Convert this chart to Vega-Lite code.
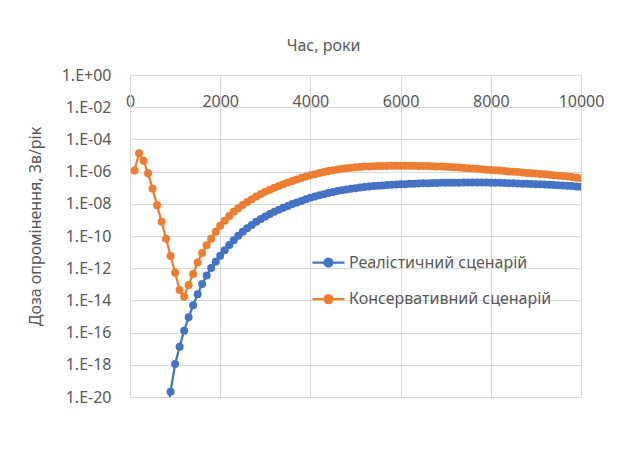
{
  "$schema": "https://vega.github.io/schema/vega-lite/v6.json",
  "width": 451,
  "height": 322,
  "autosize": "none",
  "padding": {"left": 130, "top": 75, "right": 40, "bottom": 53},
  "background": "white",
  "config": {"view": {"stroke": null}, "font": "Noto Sans"},
  "data": {"values": [
    {"t":100,"c":1.15e-6},{"t":200,"c":1.38e-5},{"t":300,"c":4.79e-6},{"t":400,"c":7.76e-7},{"t":500,"c":8.71e-8},{"t":600,"c":8.13e-9},{"t":700,"c":7.76e-10},
    {"t":800,"r":5.0e-22,"c":6.76e-11},{"t":900,"r":2.14e-20,"c":5.75e-12},{"t":1000,"r":1.12e-18,"c":5.25e-13},{"t":1100,"r":1.32e-17,"c":4.47e-14},{"t":1200,"r":1.32e-16,"c":1.70e-14},
    {"t":1300,"r":8.91e-16,"c":9.12e-14},{"t":1400,"r":5.01e-15,"c":4.37e-13},{"t":1500,"r":2.40e-14,"c":2.24e-12},{"t":1600,"r":1.05e-13,"c":8.91e-12},{"t":1700,"r":3.55e-13,"c":2.63e-11},
    {"t":1800,"r":1.02e-12,"c":6.76e-11},{"t":1900,"r":2.51e-12,"c":1.86e-10},{"t":2000,"r":5.89e-12,"c":4.37e-10},{"t":2100,"r":1.32e-11,"c":8.71e-10},{"t":2200,"r":2.75e-11,"c":1.74e-9},
    {"t":2300,"r":5.50e-11,"c":3.16e-9},{"t":2400,"r":1.02e-10,"c":5.37e-9},{"t":2500,"r":1.82e-10,"c":8.51e-9},{"t":2600,"r":3.02e-10,"c":1.29e-8},{"t":2700,"r":4.90e-10,"c":1.91e-8},
    {"t":2800,"r":7.59e-10,"c":2.82e-8},{"t":2900,"r":1.12e-9,"c":4.07e-8},{"t":3000,"r":1.62e-9,"c":5.62e-8},{"t":3100,"r":2.29e-9,"c":7.59e-8},{"t":3200,"r":3.16e-9,"c":1.00e-7},
    {"t":3300,"r":4.27e-9,"c":1.29e-7},{"t":3400,"r":5.62e-9,"c":1.66e-7},{"t":3500,"r":7.41e-9,"c":2.09e-7},{"t":3600,"r":9.55e-9,"c":2.63e-7},{"t":3700,"r":1.20e-8,"c":3.24e-7},
    {"t":3800,"r":1.51e-8,"c":3.98e-7},{"t":3900,"r":1.91e-8,"c":4.90e-7},{"t":4000,"r":2.34e-8,"c":5.89e-7},{"t":4100,"r":2.82e-8,"c":6.92e-7},{"t":4200,"r":3.39e-8,"c":8.13e-7},
    {"t":4300,"r":3.98e-8,"c":9.55e-7},{"t":4400,"r":4.68e-8,"c":1.10e-6},{"t":4500,"r":5.37e-8,"c":1.23e-6},{"t":4600,"r":6.17e-8,"c":1.35e-6},{"t":4700,"r":6.92e-8,"c":1.48e-6},
    {"t":4800,"r":7.76e-8,"c":1.62e-6},{"t":4900,"r":8.51e-8,"c":1.74e-6},{"t":5000,"r":9.33e-8,"c":1.86e-6},{"t":5100,"r":1.02e-7,"c":1.95e-6},{"t":5200,"r":1.10e-7,"c":2.04e-6},
    {"t":5300,"r":1.17e-7,"c":2.09e-6},{"t":5400,"r":1.26e-7,"c":2.14e-6},{"t":5500,"r":1.32e-7,"c":2.19e-6},{"t":5600,"r":1.38e-7,"c":2.24e-6},{"t":5700,"r":1.45e-7,"c":2.24e-6},
    {"t":5800,"r":1.51e-7,"c":2.29e-6},{"t":5900,"r":1.58e-7,"c":2.29e-6},{"t":6000,"r":1.62e-7,"c":2.29e-6},{"t":6100,"r":1.66e-7,"c":2.29e-6},{"t":6200,"r":1.74e-7,"c":2.29e-6},
    {"t":6300,"r":1.78e-7,"c":2.29e-6},{"t":6400,"r":1.82e-7,"c":2.24e-6},{"t":6500,"r":1.86e-7,"c":2.24e-6},{"t":6600,"r":1.91e-7,"c":2.19e-6},{"t":6700,"r":1.95e-7,"c":2.14e-6},
    {"t":6800,"r":1.95e-7,"c":2.09e-6},{"t":6900,"r":2.00e-7,"c":2.04e-6},{"t":7000,"r":2.00e-7,"c":2.00e-6},{"t":7100,"r":2.04e-7,"c":1.95e-6},{"t":7200,"r":2.04e-7,"c":1.86e-6},
    {"t":7300,"r":2.04e-7,"c":1.78e-6},{"t":7400,"r":2.09e-7,"c":1.70e-6},{"t":7500,"r":2.09e-7,"c":1.62e-6},{"t":7600,"r":2.09e-7,"c":1.55e-6},{"t":7700,"r":2.09e-7,"c":1.48e-6},
    {"t":7800,"r":2.09e-7,"c":1.38e-6},{"t":7900,"r":2.09e-7,"c":1.32e-6},{"t":8000,"r":2.04e-7,"c":1.26e-6},{"t":8100,"r":2.04e-7,"c":1.20e-6},{"t":8200,"r":2.00e-7,"c":1.15e-6},
    {"t":8300,"r":1.95e-7,"c":1.10e-6},{"t":8400,"r":1.91e-7,"c":1.02e-6},{"t":8500,"r":1.86e-7,"c":9.77e-7},{"t":8600,"r":1.82e-7,"c":9.33e-7},{"t":8700,"r":1.78e-7,"c":8.91e-7},
    {"t":8800,"r":1.74e-7,"c":8.32e-7},{"t":8900,"r":1.70e-7,"c":7.94e-7},{"t":9000,"r":1.66e-7,"c":7.59e-7},{"t":9100,"r":1.62e-7,"c":7.08e-7},{"t":9200,"r":1.58e-7,"c":6.76e-7},
    {"t":9300,"r":1.51e-7,"c":6.31e-7},{"t":9400,"r":1.48e-7,"c":6.03e-7},{"t":9500,"r":1.41e-7,"c":5.62e-7},{"t":9600,"r":1.38e-7,"c":5.25e-7},{"t":9700,"r":1.32e-7,"c":4.90e-7},
    {"t":9800,"r":1.26e-7,"c":4.57e-7},{"t":9900,"r":1.20e-7,"c":4.17e-7},{"t":10000,"r":1.15e-7,"c":3.80e-7}
  ]},
  "transform": [
    {"fold": ["r", "c"], "as": ["s", "d"]},
    {"filter": "isValid(datum.d)"}
  ],
  "encoding": {
    "x": {
      "field": "t", "type": "quantitative",
      "scale": {"domain": [0, 10000], "nice": false, "zero": false},
      "axis": {
        "orient": "top", "title": "Час, роки", "values": [0, 2000, 4000, 6000, 8000, 10000], "format": "d",
        "ticks": false, "tickSize": 0, "labelPadding": -26, "labelBaseline": "middle",
        "labelFlush": false, "labelOverlap": false, "labelFont": "Noto Sans", "labelFontSize": 16, "labelColor": "#595959",
        "grid": true, "gridColor": "#d9d9d9", "gridWidth": 1, "domainColor": "#d9d9d9",
        "titleFont": "Noto Sans", "titleFontSize": 16, "titleFontWeight": "normal", "titleColor": "#595959",
        "titleX": 193, "titleY": -30, "titleBaseline": "middle", "titleAlign": "center"
      }
    },
    "y": {
      "field": "d", "type": "quantitative",
      "scale": {"type": "log", "domain": [1e-20, 1], "nice": false},
      "axis": {
        "title": "Доза опромінення, Зв/рік",
        "values": [1, 1e-2, 1e-4, 1e-6, 1e-8, 1e-10, 1e-12, 1e-14, 1e-16, 1e-18, 1e-20],
        "labelExpr": "datum.value >= 1 ? '1.E+00' : (round(-log(datum.value)/LN10) < 10 ? '1.E-0' : '1.E-') + round(-log(datum.value)/LN10)",
        "ticks": false, "tickSize": 0, "labelPadding": 19, "labelBaseline": "middle",
        "labelFlush": false, "labelOverlap": false, "labelFont": "Noto Sans", "labelFontSize": 16, "labelColor": "#595959",
        "grid": true, "gridColor": "#d9d9d9", "gridWidth": 1, "domainColor": "#d9d9d9",
        "titleFont": "Noto Sans", "titleFontSize": 16, "titleFontWeight": "normal", "titleColor": "#595959",
        "titleX": -95, "titleY": 151, "titleBaseline": "middle", "titleAlign": "center", "titleAngle": -90
      }
    },
    "color": {
      "field": "s", "type": "nominal",
      "scale": {"domain": ["r", "c"], "range": ["#4472C4", "#ED7D31"]},
      "legend": {
        "orient": "none", "legendX": 181, "legendY": 170, "title": null, "padding": 0,
        "symbolType": "M-1,0H1M0.25,0A0.25,0.25,0,1,1,-0.25,0A0.25,0.25,0,1,1,0.25,0",
        "symbolSize": 1024, "symbolStrokeWidth": 2.25,
        "labelFont": "Noto Sans", "labelFontSize": 16, "labelColor": "#595959", "labelOffset": 3,
        "rowPadding": 10.6, "labelLimit": 400,
        "labelExpr": "datum.value == 'r' ? 'Реалістичний сценарій' : 'Консервативний сценарій'",
        "encode": {"symbols": {"update": {
          "fill": {"scale": "color", "field": "value"},
          "stroke": {"scale": "color", "field": "value"},
          "opacity": {"value": 1}
        }}}
      }
    }
  },
  "layer": [
    {"mark": {"type": "line", "clip": true, "strokeWidth": 2.25}},
    {"mark": {"type": "point", "clip": true, "filled": true, "size": 64, "opacity": 1}}
  ]
}
